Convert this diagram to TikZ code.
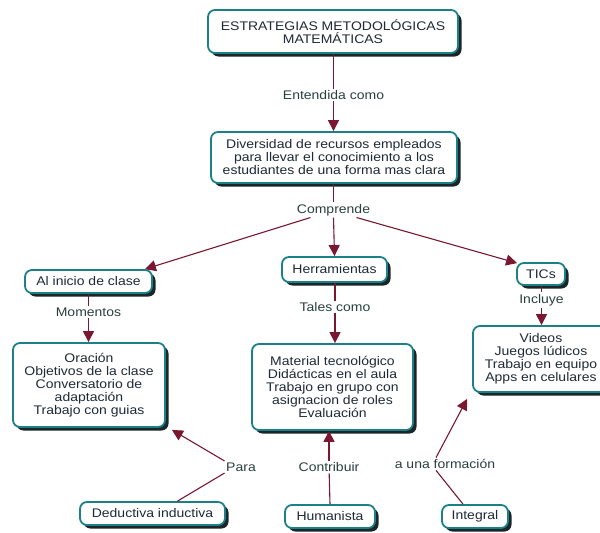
\documentclass[tikz,border=0pt]{standalone}
\usepackage{fontspec}
\setmainfont{Liberation Sans}[FakeStretch=1.12]
\usetikzlibrary{arrows.meta,shadows}
\definecolor{boxedge}{HTML}{1C8088}
\definecolor{shadowc}{HTML}{1A2628}
\definecolor{txt}{HTML}{1E2A36}
\definecolor{lbl}{HTML}{2A403E}
\definecolor{arrowc}{HTML}{7A1832}
\begin{document}
\begin{tikzpicture}[x=1pt,y=-1pt,
  box/.style={draw=boxedge, line width=1.8pt, fill=white, rounded corners=7pt,
    align=center, text=txt, font=\fontsize{12.5}{13}\selectfont, inner sep=1pt,
    drop shadow={shadow xshift=3.5pt, shadow yshift=-3.5pt, fill=shadowc, opacity=1}},
  lab/.style={text=lbl, font=\fontsize{12.5}{13}\selectfont, inner sep=1.5pt},
  link/.style={draw=arrowc, line width=1.1pt},
  arr/.style={link, -{Triangle[length=11pt,width=11pt]}}]
\useasboundingbox[fill=white] (0,0) rectangle (600,533);

% boxes
\node[box, minimum width=250pt, minimum height=43pt] (top) at (333,31.5)
  {ESTRATEGIAS METODOLÓGICAS\\MATEMÁTICAS};
\node[box, minimum width=246pt, minimum height=51pt] (div) at (334,157.5)
  {Diversidad de recursos empleados\\para llevar el conocimiento a los\\estudiantes de una forma mas clara};
\node[box, minimum width=127pt, minimum height=23pt] (inicio) at (88.5,281.5) {Al inicio de clase};
\node[box, minimum width=105pt, minimum height=25pt] (herr) at (334.5,269.5) {Herramientas};
\node[box, minimum width=48pt, minimum height=22pt] (tics) at (541,274) {TICs};
\node[box, minimum width=152pt, minimum height=84pt] (leftbox) at (89,385)
  {Oración\\Objetivos de la clase\\Conversatorio de\\adaptación\\Trabajo con guias};
\node[box, minimum width=161pt, minimum height=86pt] (midbox) at (332.5,387)
  {Material tecnológico\\Didácticas en el aula\\Trabajo en grupo con\\asignacion de roles\\Evaluación};
\node[box, minimum width=136pt, minimum height=66pt] (rightbox) at (541,359)
  {Videos\\Juegos lúdicos\\Trabajo en equipo\\Apps en celulares};
\node[box, minimum width=145pt, minimum height=23pt] (deduct) at (152.5,513.5) {Deductiva inductiva};
\node[box, minimum width=90pt, minimum height=23pt] (human) at (330,516.5) {Humanista};
\node[box, minimum width=66pt, minimum height=23pt] (integ) at (475,516.5) {Integral};

% labels
\node[lab] (ent) at (333.5,95) {Entendida como};
\node[lab] (comp) at (333.5,210) {Comprende};
\node[lab] (mom) at (88.5,312) {Momentos};
\node[lab] (tales) at (335,307) {Tales como};
\node[lab] (incl) at (541.5,300) {Incluye};
\node[lab] (para) at (241,467) {Para};
\node[lab] (contr) at (329,467) {Contribuir};
\node[lab] (form) at (445,464) {a una formación};
\coordinate (fbot) at ([xshift=-9pt]form.south);
\coordinate (ftop) at ([xshift=-9pt]form.north);

% connectors
\draw[link] (top.south -| ent) -- (ent);
\draw[arr] (ent) -- (div.north -| ent);
\draw[link] (div.south -| comp) -- (comp);
\draw[arr] (comp.south) -- (herr.north);
\draw[arr] ([xshift=-23pt]comp.south) -- ([xshift=-8pt]inicio.north east);
\draw[arr] ([xshift=23pt]comp.south) -- ([xshift=1pt,yshift=-1pt]tics.north west);
\draw[link] (inicio.south -| mom) -- (mom);
\draw[arr] (mom) -- (leftbox.north -| mom);
\draw[link] (herr.south -| tales) -- (tales);
\draw[arr] (tales) -- (midbox.north -| tales);
\draw[link] (tics.south -| incl) -- (incl);
\draw[arr] (incl) -- (rightbox.north -| incl);
\draw[link] ([xshift=25pt]deduct.north) -- (para.south west);
\draw[arr] (para.north west) -- ([xshift=6pt,yshift=-2pt]leftbox.south east);
\draw[link] (human.north) -- (contr);
\draw[arr] (contr) -- (midbox.south -| contr);
\draw[link] ([xshift=-12pt]integ.north) -- (fbot);
\draw[arr] (ftop) -- ([xshift=-5pt,yshift=-6pt]rightbox.south west);
\end{tikzpicture}
\end{document}
